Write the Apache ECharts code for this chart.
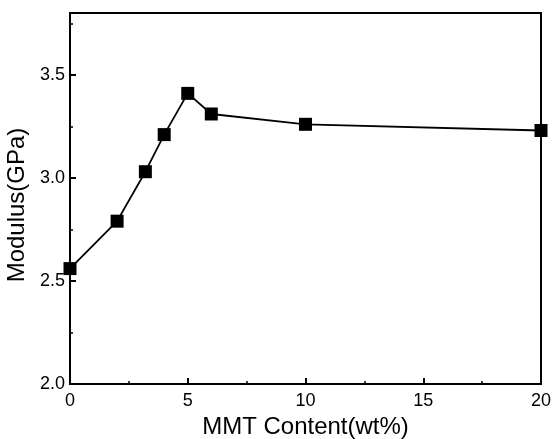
<!DOCTYPE html>
<html>
<head>
<meta charset="utf-8">
<script src="https://cdn.jsdelivr.net/npm/echarts@6/dist/echarts.min.js"></script>
<style>
  html, body { margin: 0; padding: 0; background: #fff; }
  #chart { width: 554px; height: 439px; }
</style>
</head>
<body>
<div id="chart"></div>
<script>
const mmtContent = [0, 2, 3.2, 4, 5, 6, 10, 20];
const modulus = [2.56, 2.79, 3.03, 3.21, 3.41, 3.31, 3.26, 3.23];
const xMajorTicks = [0, 5, 10, 15, 20];
const xMinorTicks = [2.5, 7.5, 12.5, 17.5];
const yMajorTicks = [2.0, 2.5, 3.0, 3.5];
const yMinorTicks = [2.25, 2.75, 3.25, 3.75];

const chart = echarts.init(document.getElementById("chart"));
const font = "Liberation Sans, Arial, sans-serif";

// extra axis that only draws the short minor ticks
const minorAxis = (ticks, min, max, position) => ({
  type: "value",
  min: min,
  max: max,
  position: position,
  axisLine: { show: false },
  axisLabel: { show: false },
  splitLine: { show: false },
  axisTick: {
    show: true,
    inside: true,
    length: 3,
    customValues: ticks,
    lineStyle: { color: "#000", width: 1.5 },
  },
});

const option = {
  backgroundColor: "#fff",
  animation: false,
  grid: {
    left: 70,
    right: 13,
    top: 13,
    bottom: 55,
    show: true,
    borderColor: "#000",
    borderWidth: 2,
    outerBoundsMode: "none",
    containLabel: false,
  },
  xAxis: [
    {
      type: "value",
      min: 0,
      max: 20,
      interval: 5,
      position: "bottom",
      name: "MMT Content(wt%)",
      nameLocation: "middle",
      nameGap: 25,
      nameTextStyle: { color: "#000", fontSize: 24, fontFamily: font },
      axisLine: { lineStyle: { color: "#000", width: 2 } },
      axisTick: {
        show: true,
        inside: true,
        length: 6,
        lineStyle: { color: "#000", width: 2 },
      },
      axisLabel: {
        customValues: xMajorTicks,
        color: "#000",
        fontSize: 18,
        fontFamily: font,
        margin: 8,
      },
      splitLine: { show: false },
    },
    minorAxis(xMinorTicks, 0, 20, "bottom"),
  ],
  yAxis: [
    {
      type: "value",
      min: 2.0,
      max: 3.8,
      interval: 0.5,
      position: "left",
      name: "Modulus(GPa)",
      nameLocation: "middle",
      nameGap: 36,
      nameTextStyle: {
        color: "#000",
        fontSize: 24,
        fontFamily: font,
        padding: [0, 13, 0, 0],
      },
      axisLine: { lineStyle: { color: "#000", width: 2 } },
      axisTick: {
        show: true,
        inside: true,
        length: 6,
        lineStyle: { color: "#000", width: 2 },
      },
      axisLabel: {
        customValues: yMajorTicks,
        color: "#000",
        fontSize: 18,
        fontFamily: font,
        margin: 5,
        formatter: (v) => v.toFixed(1),
      },
      splitLine: { show: false },
    },
    minorAxis(yMinorTicks, 2.0, 3.8, "left"),
  ],
  series: [
    {
      type: "line",
      xAxisIndex: 0,
      yAxisIndex: 0,
      data: mmtContent.map((x, i) => [x, modulus[i]]),
      clip: false,
      symbol: "rect",
      symbolSize: 13,
      lineStyle: { color: "#000", width: 1.8 },
      itemStyle: { color: "#000" },
    },
  ],
};

chart.setOption(option);
</script>
</body>
</html>
